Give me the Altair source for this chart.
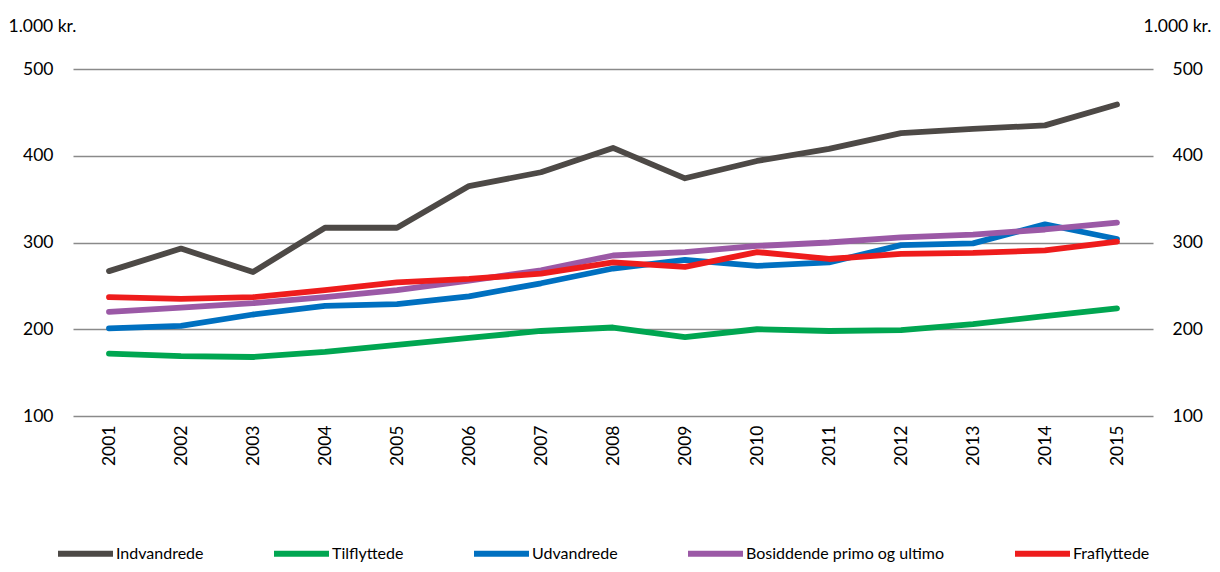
import altair as alt
import pandas as pd

years = [str(y) for y in range(2001, 2016)]
series_names = ["Indvandrede", "Tilflyttede", "Udvandrede", "Bosiddende primo og ultimo", "Fraflyttede"]
colors = ["#4d4946", "#00a651", "#0070c0", "#9b59a6", "#ee1c1c"]

indvandrede = [267, 293, 266, 317, 317, 365, 381, 409, 374, 394, 408, 426, 431, 435, 459]
tilflyttede = [172, 169, 168, 174, 182, 190, 198, 202, 191, 200, 198, 199, 206, 215, 224]
udvandrede = [201, 204, 217, 227, 229, 238, 253, 270, 280, 273, 277, 297, 299, 321, 304]
bosiddende = [220, 225, 230, 237, 245, 256, 268, 285, 289, 296, 300, 306, 309, 315, 323]
fraflyttede = [237, 235, 237, 245, 254, 258, 264, 277, 272, 289, 281, 287, 288, 291, 301]

all_vals = [indvandrede, tilflyttede, udvandrede, bosiddende, fraflyttede]
rows = []
for i, (name, vals) in enumerate(zip(series_names, all_vals)):
    for y, v in zip(years, vals):
        rows.append({"year": y, "value": v, "series": name, "ord": i})
df = pd.DataFrame(rows)

FONT = "Lato"
FS = 17.5
xenc = alt.X("year:O", scale=alt.Scale(type="point", padding=0.5),
             axis=alt.Axis(title=None, labelAngle=-90, domain=False, ticks=False,
                           labelPadding=9, labelFontSize=FS, labelColor="#000000", labelFont=FONT))
yscale = alt.Scale(domain=[100, 500], nice=False, zero=False)

lines = alt.Chart(df).mark_line(strokeWidth=5.8, strokeCap="round", strokeJoin="round").encode(
    x=xenc,
    y=alt.Y("value:Q", scale=yscale,
            axis=alt.Axis(orient="left", values=[100, 200, 300, 400, 500], grid=True,
                          gridColor="#8a8a8a", gridWidth=1.5, domain=False, ticks=False,
                          labelPadding=20, labelFontSize=FS, labelColor="#000000", labelFont=FONT,
                          title="1.000 kr.", titleAngle=0, titleAlign="left", titleBaseline="alphabetic",
                          titleX=-65, titleY=-38, titleFontSize=FS, titleFontWeight="normal",
                          titleFont=FONT, titleColor="#000000")),
    color=alt.Color("series:N", scale=alt.Scale(domain=series_names, range=colors),
                    legend=alt.Legend(title=None, orient="none", legendX=-18, legendY=454,
                                      direction="horizontal", columns=5, columnPadding=58,
                                      symbolType="stroke", symbolSize=3025, symbolStrokeWidth=6,
                                      labelFontSize=16, labelFont=FONT, labelColor="#000000",
                                      labelOffset=0, labelLimit=400)),
    order=alt.Order("ord:Q"),
)

right = alt.Chart(df).mark_line(strokeOpacity=0).encode(
    x=xenc,
    y=alt.Y("value:Q", scale=yscale,
            axis=alt.Axis(orient="right", values=[100, 200, 300, 400, 500], grid=False,
                          domain=False, ticks=False,
                          labelPadding=19, labelFontSize=FS, labelColor="#000000", labelFont=FONT,
                          title="1.000 kr.", titleAngle=0, titleAlign="left", titleBaseline="alphabetic",
                          titleX=-10, titleY=-38, titleFontSize=FS, titleFontWeight="normal",
                          titleFont=FONT, titleColor="#000000")),
    detail="series:N",
)

chart = alt.layer(lines, right).resolve_scale(y="independent").properties(
    width=1080, height=347,
    padding={"left": 65, "top": 61, "right": 59, "bottom": 148},
    autosize=alt.AutoSizeParams(type="none"),
).configure_view(stroke=None)

chart.save("out.html", embed_options={"renderer": "svg", "actions": False})
